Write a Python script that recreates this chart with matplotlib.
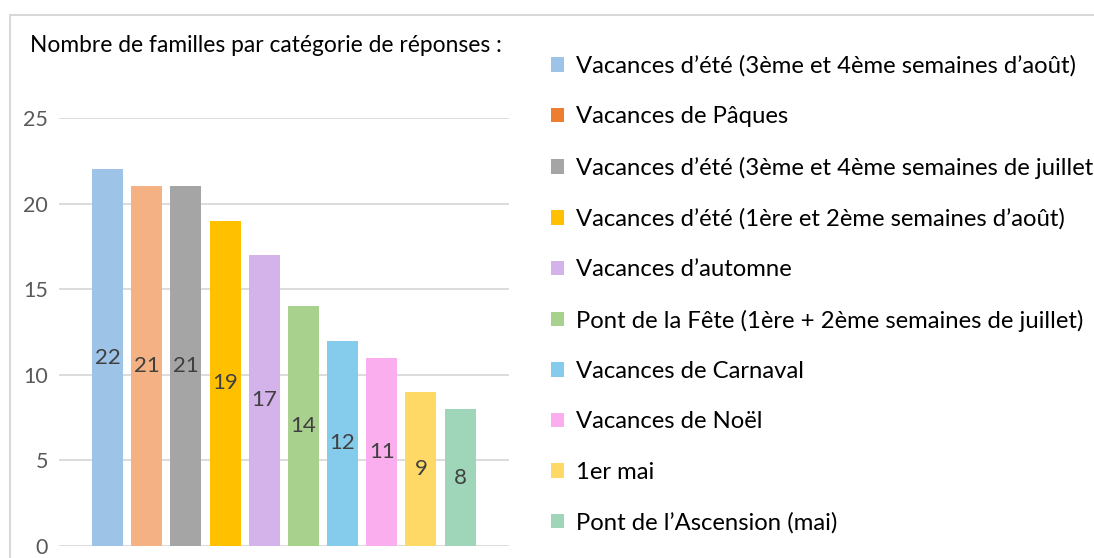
import numpy as np
import matplotlib.pyplot as plt
from matplotlib.patches import Patch, Rectangle

# Data
categories = [
    "Vacances d\u2019été (3ème et 4ème semaines d\u2019août)",
    "Vacances de Pâques",
    "Vacances d\u2019été (3ème et 4ème semaines de juillet)",
    "Vacances d\u2019été (1ère et 2ème semaines d\u2019août)",
    "Vacances d\u2019automne",
    "Pont de la Fête (1ère + 2ème semaines de juillet)",
    "Vacances de Carnaval",
    "Vacances de Noël",
    "1er mai",
    "Pont de l\u2019Ascension (mai)",
]
values = [22, 21, 21, 19, 17, 14, 12, 11, 9, 8]
yticks = [0, 5, 10, 15, 20, 25]

bar_colors = ["#9DC3E6", "#F4B183", "#A5A5A5", "#FFC000", "#D3B3EA",
              "#A9D18E", "#85CCEC", "#FBAEEE", "#FFD966", "#9FD5B8"]
legend_colors = ["#9DC3E6", "#ED7D31", "#A5A5A5", "#FFC000", "#D3B3EA",
                 "#A9D18E", "#85CCEC", "#FBAEEE", "#FFD966", "#9FD5B8"]

title = "Nombre de familles par catégorie de réponses :"

def main():
    plt.rcParams['font.family'] = ['Lato', 'DejaVu Sans']
    W, H = 1094, 558
    fig = plt.figure(figsize=(W / 100, H / 100), dpi=100)

    # outer chart frame (runs off the right and bottom edges, like the source)
    fig.patches.append(Rectangle((10 / W, -0.1), 1.2, 1 - 15 / H + 0.1,
                                 transform=fig.transFigure, fill=False,
                                 edgecolor="#D9D9D9", linewidth=1.5))

    ax = fig.add_axes([59 / W, 1 - 546 / H, 450 / W, (546 - 118) / H])
    x = np.arange(len(values))
    ax.bar(x, values, width=0.79, color=bar_colors, zorder=2)
    for xi, v in zip(x, values):
        ax.text(xi, v / 2, str(v), ha="center", va="center",
                fontsize=16, color="#404040", zorder=3)

    ax.set_xlim(-1.24, 9 + 1.25)
    ax.set_ylim(0, 25)
    ax.set_yticks(yticks)
    ax.set_xticks([])
    ax.grid(axis="y", color="#D9D9D9", linewidth=1.3, zorder=0)
    for s in ax.spines.values():
        s.set_visible(False)
    ax.tick_params(axis="y", length=0, labelsize=15.5, labelcolor="#595959", pad=8)

    fig.text(30 / W, 1 - 45 / H, title, fontsize=16.4, color="#000000",
             ha="left", va="center")

    handles = [Patch(facecolor=c, edgecolor="none") for c in legend_colors]
    fig.legend(handles, categories, loc="upper left",
               bbox_to_anchor=(541 / W, 1 - 46 / H), frameon=False,
               fontsize=17.2, handlelength=0.55, handleheight=0.55,
               handletextpad=0.5, labelspacing=1.23, borderaxespad=0)

    plt.savefig("out.png", dpi=100)

if __name__ == '__main__':
    main()
